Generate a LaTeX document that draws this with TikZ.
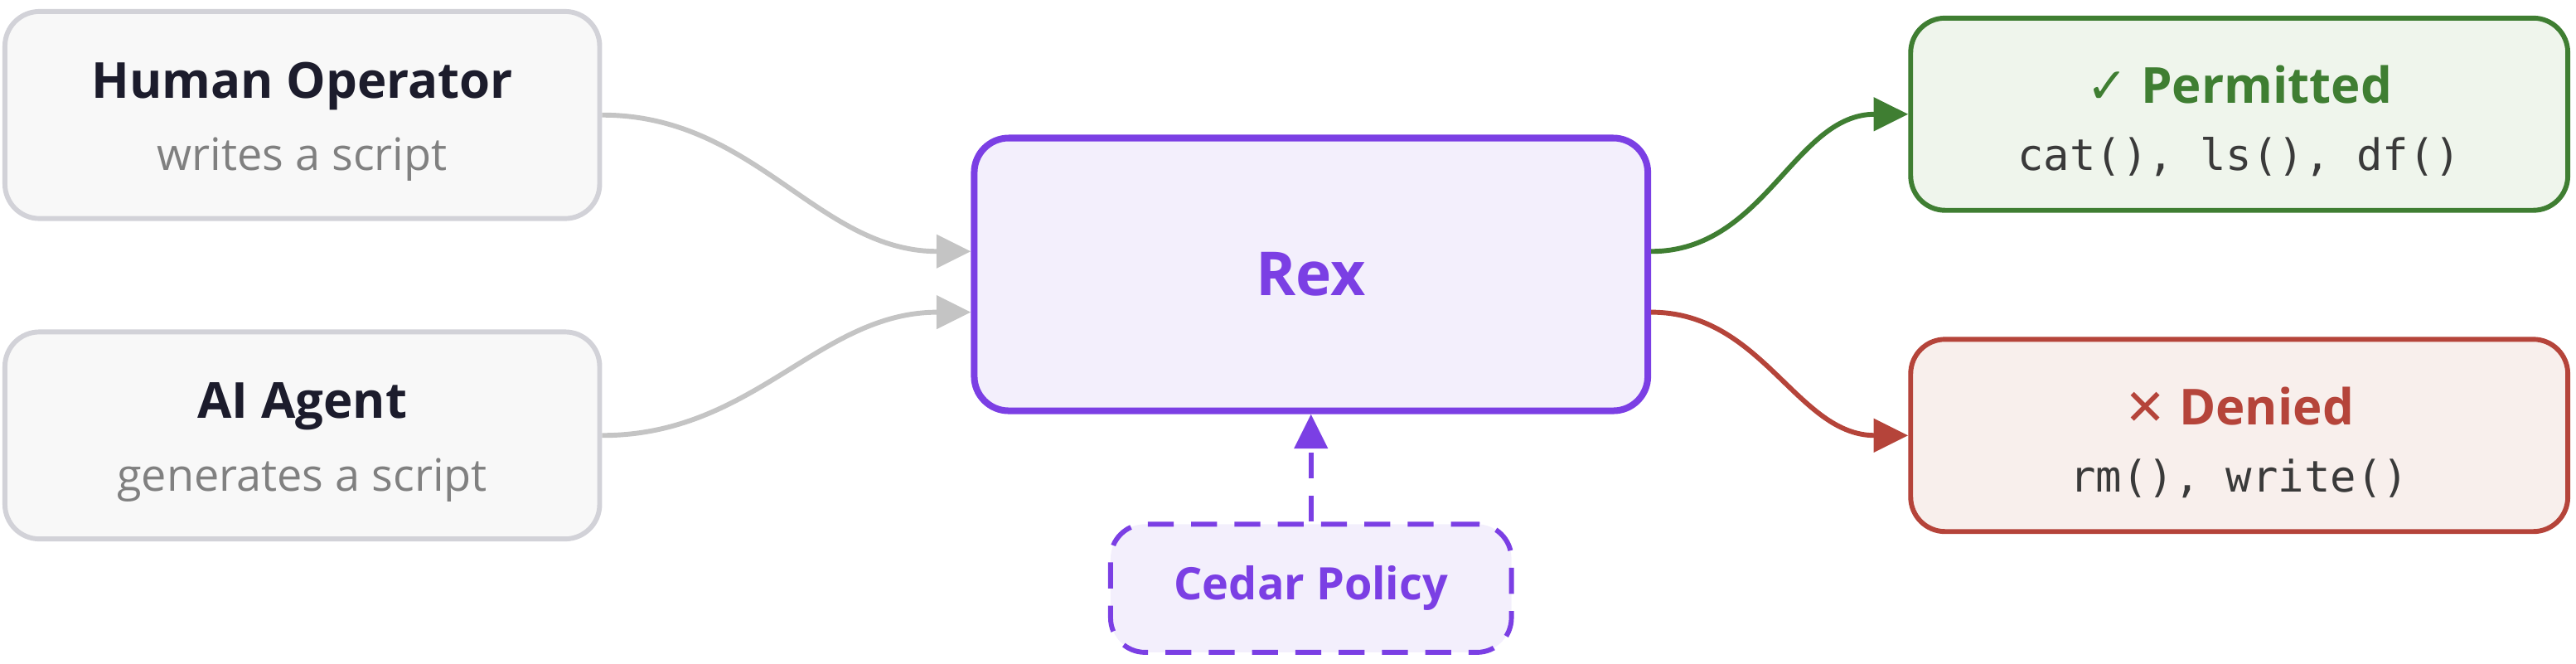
\documentclass[tikz,border=0pt]{standalone}
\usepackage{fontspec}
\setmainfont{Open Sans}
\newfontfamily\symfont{DejaVu Sans}
\setmonofont{DejaVu Sans Mono}
\usetikzlibrary{arrows.meta, positioning}

\definecolor{boxgray}{HTML}{D2D2D8}
\definecolor{boxfill}{HTML}{F8F8F8}
\definecolor{titlecol}{HTML}{1C1C2C}
\definecolor{subcol}{HTML}{808080}
\definecolor{rexcol}{HTML}{7B3FE4}
\definecolor{rexfill}{HTML}{F3EFFC}
\definecolor{okcol}{HTML}{3F7E32}
\definecolor{okfill}{HTML}{EFF5EC}
\definecolor{nocol}{HTML}{B5443A}
\definecolor{nofill}{HTML}{F8EFEC}
\definecolor{monocol}{HTML}{3A3A3A}
\definecolor{arrgray}{HTML}{C4C4C4}

\tikzset{
  box/.style={draw, rounded corners=0.42cm, line width=1.7pt},
  src/.style={box, draw=boxgray, fill=boxfill, minimum width=7.24cm, minimum height=2.52cm},
  res/.style={box, minimum width=8cm, minimum height=2.34cm},
  title/.style={font=\fontsize{17.2}{19}\selectfont\bfseries, text=titlecol},
  sub/.style={font=\fontsize{15.5}{17}\selectfont, text=subcol},
  mono/.style={font=\ttfamily\fontsize{15}{17}\selectfont, text=monocol},
  flow/.style={line width=1.7pt, -{Triangle[length=0.42cm, width=0.4cm]}},
}

\begin{document}
\begin{tikzpicture}
    \useasboundingbox (0,0) rectangle (31.36,-8.08);

    % sources
    \node[src] (hum) at (3.68,-1.40) {};
    \node[title] (humt) at ([yshift=0.35cm]hum.center) {Human Operator};
    \node[sub] (hums) at ([yshift=-0.54cm]hum.center) {writes a script};

    \node[src] (ai) at (3.68,-5.30) {};
    \node[title] (ait) at ([yshift=0.35cm]ai.center) {AI Agent};
    \node[sub] (ais) at ([yshift=-0.54cm]ai.center) {generates a script};

    % engine
    \node[box, draw=rexcol, fill=rexfill, line width=2.3pt, minimum width=8.2cm, minimum height=3.32cm,
          font=\fontsize{21}{24}\selectfont\bfseries, text=rexcol] (rex) at (15.96,-3.34) {Rex};

    \node[box, draw=rexcol, fill=rexfill, dashed, dash pattern=on 9pt off 6pt, minimum width=4.88cm, minimum height=1.56cm,
          font=\fontsize{15.5}{17}\selectfont\bfseries, text=rexcol] (ced) at (15.96,-7.16) {Cedar Policy};

    % results
    \node[res, draw=okcol, fill=okfill] (ok) at (27.26,-1.39) {};
    \node[title, text=okcol] (okt) at ([yshift=0.36cm]ok.center) {{\symfont\bfseries ✓} Permitted};
    \node[mono] (okm) at ([yshift=-0.52cm]ok.center) {cat(), ls(), df()};

    \node[res, draw=nocol, fill=nofill] (no) at (27.26,-5.30) {};
    \node[title, text=nocol] (not) at ([yshift=0.36cm]no.center) {{\symfont\bfseries ✕} Denied};
    \node[mono] (nom) at ([yshift=-0.52cm]no.center) {rm(), write()};

    % connectors
    \draw[flow, draw=arrgray] (hum.east) to[out=0, in=180] ([yshift=0.28cm]rex.west);
    \draw[flow, draw=arrgray] (ai.east) to[out=0, in=180] ([yshift=-0.46cm]rex.west);
    \draw[flow, draw=okcol] ([yshift=0.28cm]rex.east) to[out=0, in=180] (ok.west);
    \draw[flow, draw=nocol] ([yshift=-0.46cm]rex.east) to[out=0, in=180] (no.west);
    \draw[flow, draw=rexcol, dashed, dash pattern=on 9pt off 6pt] (ced.north) -- (rex.south);
\end{tikzpicture}
\end{document}
